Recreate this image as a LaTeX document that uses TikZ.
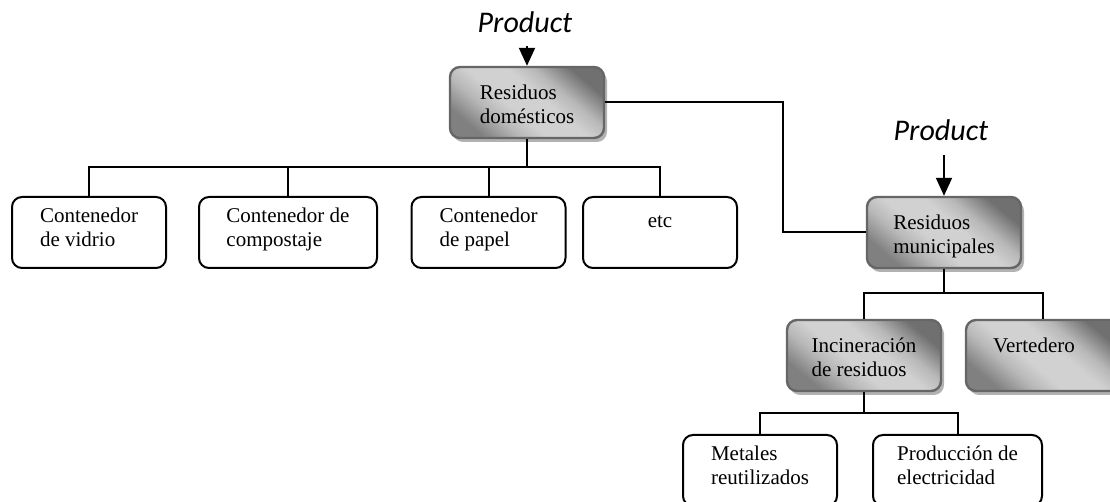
\documentclass[tikz,border=0pt]{standalone}
\usepackage{fontspec}
\setmainfont{Liberation Serif}
\newfontfamily\prodfont{Carlito}
\usetikzlibrary{arrows.meta, shadows}

\newcommand{\twolines}[2]{\begin{tabular}[t]{@{}l@{}}#1\\#2\end{tabular}}

\pgfdeclareverticalshading{metal}{100bp}{color(0bp)=(black!50); color(25bp)=(black!50); color(36bp)=(black!28); color(44bp)=(black!18); color(56bp)=(black!18); color(64bp)=(black!28); color(75bp)=(black!56); color(100bp)=(black!56)}

\tikzset{
	box/.style = {draw, line width = 1pt, rounded corners = 5pt, minimum width = 77pt, inner xsep = 0pt, inner ysep = 0pt, font = \fontsize{10.5}{12}\selectfont, text height = 13pt, text depth = 22.5pt},
	greybox/.style = {box, draw = black!60, line width = 1.2pt, shading = metal, shading angle = -40, drop shadow = {shadow xshift = 1.5pt, shadow yshift = -2pt, fill = black!30, opacity = 1}, text height = 16.5pt, text depth = 19pt},
	wire/.style = {line width = 1pt},
	feed/.style = {line width = 1pt, -{Triangle[length = 9pt, width = 8pt]}},
	prod/.style = {font = \prodfont\itshape\fontsize{15}{18}\selectfont, anchor = base}
}

\begin{document}
\begin{tikzpicture}[x = 0.5pt, y = -0.5pt]
	\useasboundingbox (0, 0) rectangle (1110, 502);
	
	\node[prod] (prodA) at (525, 33) {Product};
	\node[prod] (prodB) at (941, 141) {Product};
	
	\node[greybox] (dom) at (527, 102.5) {\twolines{Residuos}{domésticos}};
	\node[box] (vid) at (89, 232.5) {\twolines{Contenedor}{de vidrio}};
	\node[box, minimum width = 89pt] (comp) at (288, 232.5) {\twolines{Contenedor de}{compostaje}};
	\node[box] (pap) at (488.5, 232.5) {\twolines{Contenedor}{de papel}};
	\node[box, text height = 15.5pt, text depth = 20pt] (etc) at (660, 232.5) {etc};
	\node[greybox] (mun) at (944, 232.5) {\twolines{Residuos}{municipales}};
	\node[greybox] (inc) at (864, 355.5) {\twolines{Incineración}{de residuos}};
	\node[greybox] (ver) at (1043, 355.5) {Vertedero\hspace*{9pt}};
	\node[box] (met) at (760, 470.5) {\twolines{Metales}{reutilizados}};
	\node[box, minimum width = 84.5pt] (pro) at (957.5, 470.5) {\twolines{Producción de}{electricidad}};
	
	\draw[feed, shorten <= 3pt] (prodA.south -| dom.north) -- (dom.north);
	\draw[feed, shorten <= 3.5pt] (prodB.south -| mun.north) -- (mun.north);
	
	\coordinate (busA) at (0, 167);
	\draw[wire] (dom.south) -- (dom.south |- busA);
	\draw[wire] (vid.north) |- (busA -| etc.north) -- (etc.north);
	\foreach \b in {comp, pap}
	\draw[wire] (\b.north) -- (\b.north |- busA);
	
	\coordinate (bend) at (783, 0);
	\draw[wire] (dom.east) -| (bend |- mun.west) -- (mun.west);
	
	\coordinate (busB) at (0, 293);
	\draw[wire] (mun.south) -- (mun.south |- busB);
	\draw[wire] (inc.north) |- (busB -| ver.north) -- (ver.north);
	
	\coordinate (busC) at (0, 413);
	\draw[wire] (inc.south) -- (inc.south |- busC);
	\draw[wire] (met.north) |- (busC -| pro.north) -- (pro.north);
\end{tikzpicture}
\end{document}
